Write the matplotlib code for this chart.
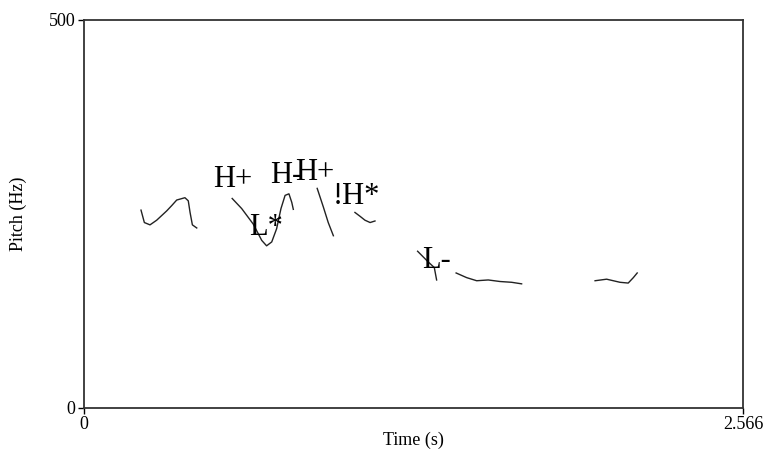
import matplotlib
matplotlib.use('Agg')
import matplotlib.pyplot as plt

plt.rcParams['font.family'] = ['Liberation Serif', 'DejaVu Serif']

# Pitch contour pieces: time (s) and pitch (Hz)
seg1_t = [0.222, 0.235, 0.257, 0.283, 0.322, 0.342, 0.361, 0.393, 0.406, 0.413, 0.422, 0.439]
seg1_f = [255, 239, 236, 242, 254, 261, 268, 271, 267, 252, 236, 232]

seg2_t = [0.577, 0.614, 0.659, 0.692, 0.711, 0.731, 0.750, 0.767, 0.783, 0.798, 0.809, 0.815]
seg2_f = [270, 257, 237, 216, 209, 214, 231, 257, 274, 276, 265, 256]

seg3_t = [0.908, 0.932, 0.951, 0.971]
seg3_f = [283, 259, 239, 222]

seg4_t = [1.055, 1.075, 1.094, 1.114, 1.133]
seg4_f = [252, 247, 242, 239, 241]

seg5_t = [1.299, 1.341, 1.364, 1.373]
seg5_f = [202, 188, 181, 165]

seg6_t = [1.449, 1.490, 1.529, 1.574, 1.620, 1.665, 1.704]
seg6_f = [174, 168, 164, 165, 163, 162, 160]

seg7_t = [1.990, 2.035, 2.087, 2.119, 2.139, 2.154]
seg7_f = [164, 166, 162, 161, 168, 174]

segments = [(seg1_t, seg1_f), (seg2_t, seg2_f), (seg3_t, seg3_f), (seg4_t, seg4_f),
            (seg5_t, seg5_f), (seg6_t, seg6_f), (seg7_t, seg7_f)]

# Tone labels: text, time (s), pitch (Hz) of the left baseline
tone_text = ['H+', 'H-', 'H+', '!H*', 'L*', 'L-']
tone_t = [0.502, 0.724, 0.822, 0.970, 0.643, 1.316]
tone_f = [285, 290, 294, 263, 223, 180]

t_max = 2.566
f_max = 500

fig = plt.figure(figsize=(7.64, 4.49), dpi=100)
ax = fig.add_axes([84 / 764, 1 - 408 / 449, 659 / 764, 388 / 449])

for t, f in segments:
    ax.plot(t, f, color='#222222', linewidth=1.0)

for txt, t, f in zip(tone_text, tone_t, tone_f):
    ax.text(t, f, txt, fontsize=22, ha='left', va='baseline', color='black')

ax.set_xlim(0, t_max)
ax.set_ylim(0, f_max)
ax.set_xticks([0, t_max])
ax.set_xticklabels(['0', '2.566'])
ax.set_yticks([0, f_max])
ax.set_yticklabels(['0', '500'])
ax.tick_params(direction='out', length=4.5, width=1, labelsize=13, pad=1.5)

for spine in ax.spines.values():
    spine.set_linewidth(1.3)
    spine.set_color('#333333')

ax.set_xlabel('Time (s)', fontsize=13)
ax.set_ylabel('Pitch (Hz)', fontsize=13)
ax.xaxis.set_label_coords(0.5, -0.06)
ax.yaxis.set_label_coords(-0.087, 0.5)

fig.savefig('out.png', dpi=100)
